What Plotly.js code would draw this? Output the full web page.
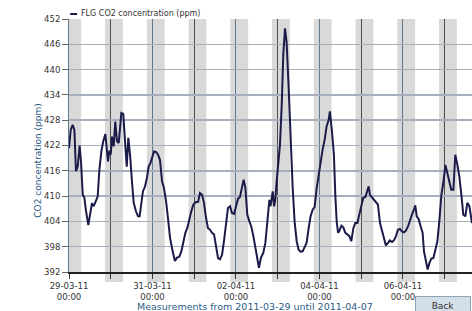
<!DOCTYPE html>
<html>
<head>
<meta charset="utf-8">
<script src="https://cdn.plot.ly/plotly-3.0.1.min.js"></script>
<style>
html,body{margin:0;padding:0;background:#fff;overflow:hidden;}
#chart{width:472px;height:311px;}
</style>
</head>
<body>
<div id="chart"></div>
<script>
// Hours since 2011-03-29 00:00
const hoursSinceStart = [
0,1,2.1,3.1,4,5,6.1,6.9,7.9,8.8,9.8,11.1,12.1,13.2,14.2,15.5,16.5,17.4,18.6,19.7,
20.9,22.4,23.2,24,24.7,25.7,26.6,27.6,28.6,30.1,31.2,32.2,33.2,34.1,35.1,36.2,37.2,38.5,39.7,40.6,
41.6,42.5,43.7,44.8,45.8,46.8,47.7,48.9,50,51.2,52.3,53.5,54.6,55.8,56.9,58.1,59.6,60.9,62.1,63.4,
64.6,65.7,66.9,68,69.2,70.3,71.5,73,74.2,75.3,76.5,
77.6,78.8,79.9,81.1,82.2,83.4,84.5,85.7,86.8,88,89.1,90.3,91.4,92.6,93.7,94.9,96,97.2,98.3,99.5,
100.4,101.4,102.5,103.7,104.8,106,107.1,108.3,109.2,110.4,111.7,112.9,114,115.2,115.9,117.1,117.9,118.6,119.4,120.5,
121.3,122.3,123.2,124.2,125.1,126.3,127.4,128.6,129.7,130.9,132,133.2,134.3,135.5,136.6,137.8,138.9,140.1,141.2,142.4,
143.5,144.7,145.8,147,148.1,149.3,150,151.2,152.3,
153.1,153.9,154.7,155.4,156.6,157.7,158.9,160,161.2,162.3,163.5,164.6,165.8,166.9,168.1,169.2,170.4,171.5,172.3,173,
174.2,175.3,176.5,177.6,178.8,179.9,181.1,182.2,183.4,184.5,185.7,186.8,188,189.1,190.3,191.4,192.6,193.7,194.9,196,
197.2,198.3,199.1,199.9,201,202.2,203.3,204.1,205.2,206.2,207.2,208.3,209.5,210.6,211.8,212.9,214.1,215.2,216.4,217.5,
218.7,219.8,221,222.1,223.3,224.4,225.6,226.7,227.9,229,230.2,231.3,231.7
];
// FLG CO2 concentration (ppm)
const co2ppm = [
421.4,425.7,426.9,425.7,415.9,417,422,418.2,410.3,409.7,406.4,403.1,405.6,408.3,407.6,408.8,409.9,415.9,420.6,423,
424.7,418.2,420.8,419.8,424.1,421.8,427.7,423,422.6,429.7,429.5,423,417,423.8,419.8,413.5,408.4,406.4,405.2,405.2,
408,411.1,412.3,414.3,417,417.8,419,420.6,420.5,419.8,418.6,413.5,411.9,408.8,404.8,400.1,396.9,394.6,395.4,395.6,
396.9,399.3,401.3,402.4,404.8,406.4,408,408.6,408.6,410.7,410.3,
408.4,404.8,402.4,402,401.3,400.9,398.5,395.3,395,396.1,399.3,404,407.2,407.6,406,405.8,407.6,409.4,409.8,412.7,
413.9,412,405.6,404,402.8,400.5,397.7,394.6,393,395.4,396.5,398.9,404,409.1,407.6,411.1,407.6,409.1,413.5,419,
422.2,431.6,443.5,449.8,446.6,435.6,423,412,404,399.3,397.3,396.8,396.9,398.1,398.9,402.4,405.2,406.8,407.4,411.9,
415.1,419,421,423.4,426.5,428.1,430.1,425.3,419.8,
410.3,404,401.3,401.7,403,402.6,401.3,400.9,400.5,399.3,402.4,403.6,403.6,405.6,407.6,409.6,409.8,411.1,412.3,410.3,
409.7,408.9,408.4,408,403.6,402,400.1,398.3,398.9,399.5,399.1,399.5,400.5,402,402.2,401.6,401.4,401.8,402.8,404.4,
405.6,406.8,407.8,405.2,404.6,402.8,401.3,396.9,394.6,392.6,394.1,395.2,395.3,396.9,399.3,404,410.3,413.1,417.4,415.5,
413.5,411.5,411.5,419.8,417.4,414.7,410.3,405.6,405.2,408.4,407.6,404,403.6
];
const startDay = Date.UTC(2011, 2, 29);
const nightStartHour = -3.25; // relative to midnight
const nightEndHour = 7;
const nightCount = 10;
const yTickVals = [392,398,404,410,416,422,428,434,440,446,452];

function toDateStr(ms){ return new Date(ms).toISOString().slice(0,19).replace('T',' '); }
const xDates = hoursSinceStart.map(h => toDateStr(startDay + h*3600000));

const shapes = [];
for (let d = 0; d < nightCount; d++) {
  const mid = startDay + d*86400000;
  shapes.push({
    type:'rect', xref:'x', yref:'paper',
    x0: toDateStr(mid + nightStartHour*3600000),
    x1: toDateStr(mid + nightEndHour*3600000),
    y0: d === 0 ? 0 : -0.0395, y1: 1,
    fillcolor:'#d9d9d9', line:{width:0}, layer:'below'
  });
}
// legend swatch
shapes.push({type:'line', xref:'paper', yref:'paper', x0:0.003, x1:0.02, y0:1.0198, y1:1.0198,
  line:{color:'#1b1b4a', width:2}});

const trace = {
  x: xDates, y: co2ppm, type:'scatter', mode:'lines',
  line:{color:'#1b1b4a', width:2}, showlegend:false, hoverinfo:'skip'
};

const layout = {
  width:472, height:311,
  margin:{l:69, r:0, t:19, b:39},
  paper_bgcolor:'#fff', plot_bgcolor:'#fff',
  font:{family:'DejaVu Sans, Verdana, sans-serif', size:8.5, color:'#333'},
  showlegend:false,
  shapes: shapes,
  xaxis:{
    type:'date',
    range:['2011-03-29 00:00', toDateStr(startDay + 231.7*3600000)],
    tick0:'2011-03-29', dtick:2*86400000,
    tickformat:'%d-%m-%y<br>%H:%M',
    ticks:'outside', ticklen:5, tickcolor:'#333', tickwidth:1,
    showgrid:true, gridcolor:'#61798f', gridwidth:1,
    minor:{dtick:86400000, tick0:'2011-03-29', ticks:'outside', ticklen:5, tickcolor:'#333',
           showgrid:true, gridcolor:'#4d4d4d', gridwidth:1},
    showline:true, linecolor:'#222', linewidth:2,
    zeroline:false, fixedrange:true,
    tickfont:{size:8.5, color:'#333'}
  },
  yaxis:{
    range:[392,452], tickvals:yTickVals,
    ticks:'outside', ticklen:6, tickcolor:'#666', tickwidth:1,
    showgrid:true, gridcolor:'#a7afbf', gridwidth:1.5,
    showline:true, linecolor:'#61798f', linewidth:1,
    zeroline:false, fixedrange:true,
    tickfont:{size:8.5, color:'#333'}
  },
  annotations:[
    {xref:'paper', yref:'paper', x:0.025, y:1.0198, xanchor:'left', yanchor:'middle',
     text:'FLG CO2 concentration (ppm)', showarrow:false, font:{size:8, color:'#333'}},
    {xref:'paper', yref:'paper', x:-0.0769, y:0.44, xanchor:'center', yanchor:'middle',
     textangle:-90, text:'CO2 concentration (ppm)', showarrow:false, font:{size:9, color:'#2b5b88'}},
    {xref:'paper', yref:'paper', x:0.4615, y:-0.1344, xanchor:'center', yanchor:'middle',
     text:'Measurements from 2011-03-29 until 2011-04-07', showarrow:false, font:{size:9.5, color:'#2b5b88'}},
    {xref:'paper', yref:'paper', x:0.928, y:-0.134, xanchor:'center', yanchor:'middle',
     text:'Back', showarrow:false, width:52, height:15, bgcolor:'#d3dee8', bordercolor:'#8ea4b8',
     borderwidth:1, borderpad:1, font:{size:9, color:'#333'}}
  ]
};

Plotly.newPlot('chart', [trace], layout, {staticPlot:true, displayModeBar:false});
</script>
</body>
</html>
